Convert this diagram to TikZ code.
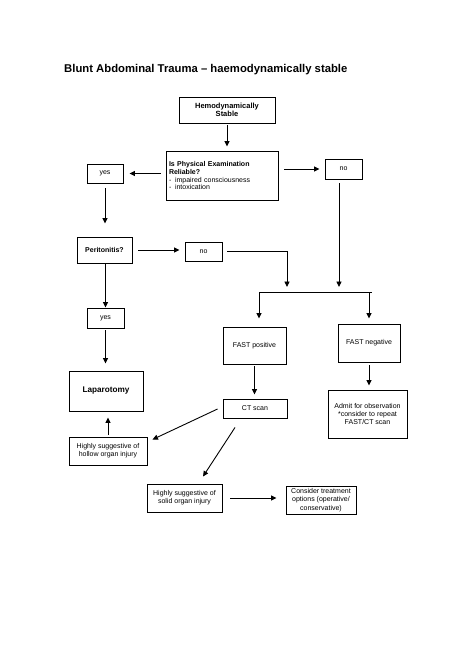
\documentclass[tikz,border=0pt]{standalone}
\usepackage{fontspec}
\setmainfont{Liberation Sans}
\usetikzlibrary{arrows.meta,calc}
\tikzset{
  box/.style={draw, line width=0.95pt, inner sep=2pt, align=center,
    font=\fontsize{7}{8.3}\selectfont},
  arr/.style={line width=0.9pt, -{Triangle[length=5.5pt,width=5pt]}},
  ln/.style={line width=0.9pt},
}
\begin{document}
\begin{tikzpicture}[x=1pt,y=-1pt]
\useasboundingbox (0,0) rectangle (474,672);
\node[anchor=west, inner sep=0pt, font=\bfseries\fontsize{11.3}{13}\selectfont] (title) at (64,70)
  {Blunt Abdominal Trauma -- haemodynamically stable};

\node[box, minimum width=96pt, minimum height=26pt, font=\bfseries\fontsize{7.5}{8.5}\selectfont] (hemo) at (227,110) {Hemodynamically\\Stable};
\node[box, minimum width=112pt, minimum height=49pt, text width=106pt, inner sep=3pt, align=left] (exam) at (222,175.5)
  {\textbf{Is Physical Examination}\\[-0.6pt]\textbf{Reliable?}\\[-0.3pt]\makebox[6pt][l]{-}impaired consciousness\\[-0.6pt]\makebox[6pt][l]{-}intoxication};
\node[box, minimum width=36pt, minimum height=19pt] (yes1) at (105,173.5) {yes};
\node[box, minimum width=37pt, minimum height=20pt] (no1) at (343.5,169) {no};
\node[box, minimum width=55pt, minimum height=26pt, font=\bfseries\fontsize{7}{8.3}\selectfont] (perit) at (104.5,250) {Peritonitis?};
\node[box, minimum width=37pt, minimum height=19pt] (no2) at (203.5,251.5) {no};
\node[box, minimum width=37pt, minimum height=20pt] (yes2) at (105.5,318) {yes};
\node[box, minimum width=74pt, minimum height=40pt, font=\bfseries\fontsize{8.2}{9.5}\selectfont] (lap) at (106,391) {Laparotomy};
\node[box, minimum width=63pt, minimum height=37pt] (fastpos) at (254.5,345.5) {FAST positive};
\node[box, minimum width=62pt, minimum height=38pt] (fastneg) at (369,343) {FAST negative};
\node[box, minimum width=64pt, minimum height=19pt] (ct) at (255,408.5) {CT scan};
\node[box, minimum width=79pt, minimum height=48pt] (admit) at (367.5,414) {Admit for observation\\*consider to repeat\\FAST/CT scan};
\node[box, minimum width=78pt, minimum height=28pt] (hollow) at (108,451) {Highly suggestive of\\hollow organ injury};
\node[box, minimum width=75pt, minimum height=28pt] (solid) at (184.5,498) {Highly suggestive of\\solid organ injury};
\node[box, minimum width=70pt, minimum height=28pt] (consider) at (321,500) {Consider treatment\\options (operative/\\conservative)};

\coordinate (barL) at (259,292);
\coordinate (barR) at (372,292);
\coordinate (j1) at (287,292);
\coordinate (j3) at (369,292);

\draw[arr, shorten <=2pt, shorten >=4pt] (hemo.south) -- (hemo.south |- exam.north);
\draw[arr, shorten <=5pt, shorten >=6pt] (exam.west |- yes1.east) -- (yes1.east);
\draw[arr, shorten <=6pt, shorten >=5pt] (exam.east |- no1.west) -- (no1.west);
\draw[arr, shorten <=5pt, shorten >=13pt] (yes1.south) -- (yes1.south |- perit.north);
\draw[arr, shorten <=4pt, shorten >=5pt] ($(no1.south)+(-4.5,0)$) coordinate (n1d) -- (n1d |- barR);
\draw[arr, shorten <=6pt, shorten >=5pt] (perit.east) -- (perit.east -| no2.west);
\draw[arr, shorten <=5pt, shorten >=5pt] (no2.east) -| (j1);
\draw[ln] (barL) -- (barR);
\draw[arr, shorten >=8pt] (barL) -- (barL |- fastpos.north);
\draw[arr, shorten >=5pt] (j3) -- (j3 |- fastneg.north);
\draw[arr] (yes2.north |- perit.south) -- (yes2.north);
\draw[arr, shorten <=2pt, shorten >=7pt] (yes2.south) -- (yes2.south |- lap.north);
\draw[arr, shorten <=2pt, shorten >=4pt] (fastpos.south) -- (fastpos.south |- ct.north);
\draw[arr, shorten <=3pt, shorten >=4pt] (fastneg.south) -- (fastneg.south |- admit.north);
\draw[arr] ($(ct.west)+(-5,0.5)$) -- ($(hollow.north east)+(5,3)$);
\draw[arr] ($(ct.south)+(-20,9)$) -- ($(solid.north)+(18.5,-7)$);
\draw[arr, shorten <=2pt, shorten >=6pt] (hollow.north) -- (hollow.north |- lap.south);
\draw[arr, shorten <=8pt, shorten >=9pt] (solid.east) -- (solid.east -| consider.west);
\end{tikzpicture}
\end{document}
